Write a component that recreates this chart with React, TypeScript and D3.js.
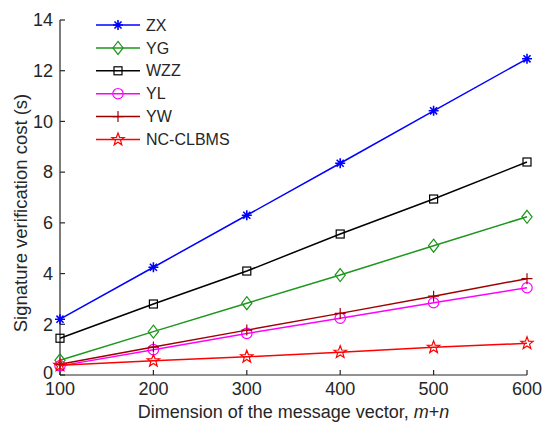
import React from "react";
import * as d3 from "d3";

const xValues = [100, 200, 300, 400, 500, 600];
const xTicks = [100, 200, 300, 400, 500, 600];
const yTicks = [0, 2, 4, 6, 8, 10, 12, 14];
const seriesNames = ["ZX", "YG", "WZZ", "YL", "YW", "NC-CLBMS"];
const zx = [2.2, 4.25, 6.3, 8.35, 10.42, 12.47];
const yg = [0.58, 1.71, 2.83, 3.94, 5.1, 6.24];
const wzz = [1.45, 2.8, 4.1, 5.56, 6.94, 8.4];
const yl = [0.36, 1.0, 1.64, 2.24, 2.85, 3.44];
const yw = [0.42, 1.1, 1.77, 2.43, 3.11, 3.8];
const nc = [0.38, 0.56, 0.72, 0.9, 1.09, 1.25];

const colors = ["#0000ff", "#1c961c", "#000000", "#ff00ff", "#a00000", "#ff0000"];
const markerTypes = ["asterisk", "diamond", "square", "circle", "plus", "star"];
const seriesValues = [zx, yg, wzz, yl, yw, nc];

const W = 544, H = 423;
const left = 60, right = 527, top = 20, bottom = 375;
const font = "Arial, 'Liberation Sans', sans-serif";

function Marker({ type, x, y, color }: { type: string; x: number; y: number; color: string }) {
  const common = { fill: "none", stroke: color, strokeWidth: 1.2 };
  if (type === "asterisk") {
    const r = 5;
    const segs = [0, 45, 90, 135].map((a) => {
      const rad = (a * Math.PI) / 180;
      return `M${x - r * Math.cos(rad)},${y - r * Math.sin(rad)}L${x + r * Math.cos(rad)},${y + r * Math.sin(rad)}`;
    });
    return <path d={segs.join("")} {...common} strokeWidth={1.6} />;
  }
  if (type === "diamond") {
    const r = 6.5;
    return <path d={`M${x},${y - r}L${x + r * 0.78},${y}L${x},${y + r}L${x - r * 0.78},${y}Z`} {...common} />;
  }
  if (type === "square") {
    const r = 4;
    return <rect x={x - r} y={y - r} width={2 * r} height={2 * r} {...common} />;
  }
  if (type === "circle") {
    return <circle cx={x} cy={y} r={5.2} {...common} />;
  }
  if (type === "plus") {
    const r = 5.5;
    return <path d={`M${x - r},${y}L${x + r},${y}M${x},${y - r}L${x},${y + r}`} {...common} />;
  }
  const R = 6.5, r2 = 2.7;
  const pts: string[] = [];
  for (let i = 0; i < 10; i++) {
    const rr = i % 2 === 0 ? R : r2;
    const a = -Math.PI / 2 + (i * Math.PI) / 5;
    pts.push(`${x + rr * Math.cos(a)},${y + rr * Math.sin(a)}`);
  }
  return <path d={`M${pts.join("L")}Z`} {...common} />;
}

export default function App() {
  const xScale = d3.scaleLinear().domain([100, 600]).range([left, right]);
  const yScale = d3.scaleLinear().domain([0, 14]).range([bottom, top]);
  const line = d3
    .line<number>()
    .x((_, i) => xScale(xValues[i]))
    .y((d) => yScale(d));

  const legendX = 96, legendY0 = 25, legendDy = 22.9;

  return (
    <svg
      width={W}
      height={H}
      style={{ position: "absolute", left: 0, top: 0, background: "#fff" }}
      fontFamily={font}
    >
      <rect width={W} height={H} fill="#fff" />
      <line x1={left} x2={left} y1={top} y2={bottom} stroke="#262626" strokeWidth={1.2} />
      <line x1={left} x2={right} y1={bottom} y2={bottom} stroke="#262626" strokeWidth={1.2} />
      {yTicks.map((t) => (
        <g key={"y" + t}>
          <line x1={left} x2={left + 5} y1={yScale(t)} y2={yScale(t)} stroke="#262626" strokeWidth={1.2} />
          <text x={left - 7} y={yScale(t) - (t === 0 ? 2 : 0)} dy="0.35em" textAnchor="end" fontSize={18} fill="#262626">
            {t}
          </text>
        </g>
      ))}
      {xTicks.map((t) => (
        <g key={"x" + t}>
          <line x1={xScale(t)} x2={xScale(t)} y1={bottom} y2={bottom - 5} stroke="#262626" strokeWidth={1.2} />
          <text x={xScale(t)} y={bottom + 20} textAnchor="middle" fontSize={18} fill="#262626">
            {t}
          </text>
        </g>
      ))}
      <text x={(left + right) / 2} y={418} textAnchor="middle" fontSize={18} fill="#262626">
        Dimension of the message vector, <tspan fontStyle="italic">m</tspan>+<tspan fontStyle="italic">n</tspan>
      </text>
      <text
        transform={`translate(27,213) rotate(-90)`}
        textAnchor="middle"
        fontSize={18.5}
        fill="#262626"
      >
        Signature verification cost (s)
      </text>
      {seriesValues.map((vals, si) => (
        <g key={seriesNames[si]}>
          <path d={line(vals) || ""} fill="none" stroke={colors[si]} strokeWidth={1.5} />
          {vals.map((v, i) => (
            <Marker key={i} type={markerTypes[si]} x={xScale(xValues[i])} y={yScale(v)} color={colors[si]} />
          ))}
        </g>
      ))}
      {seriesNames.map((name, si) => {
        const y = legendY0 + si * legendDy;
        return (
          <g key={"lg" + name}>
            <line x1={legendX} x2={legendX + 44} y1={y} y2={y} stroke={colors[si]} strokeWidth={1.5} />
            <Marker type={markerTypes[si]} x={legendX + 22} y={y} color={colors[si]} />
            <text x={legendX + 50} y={y} dy="0.35em" fontSize={16} fill="#262626">
              {name}
            </text>
          </g>
        );
      })}
    </svg>
  );
}
